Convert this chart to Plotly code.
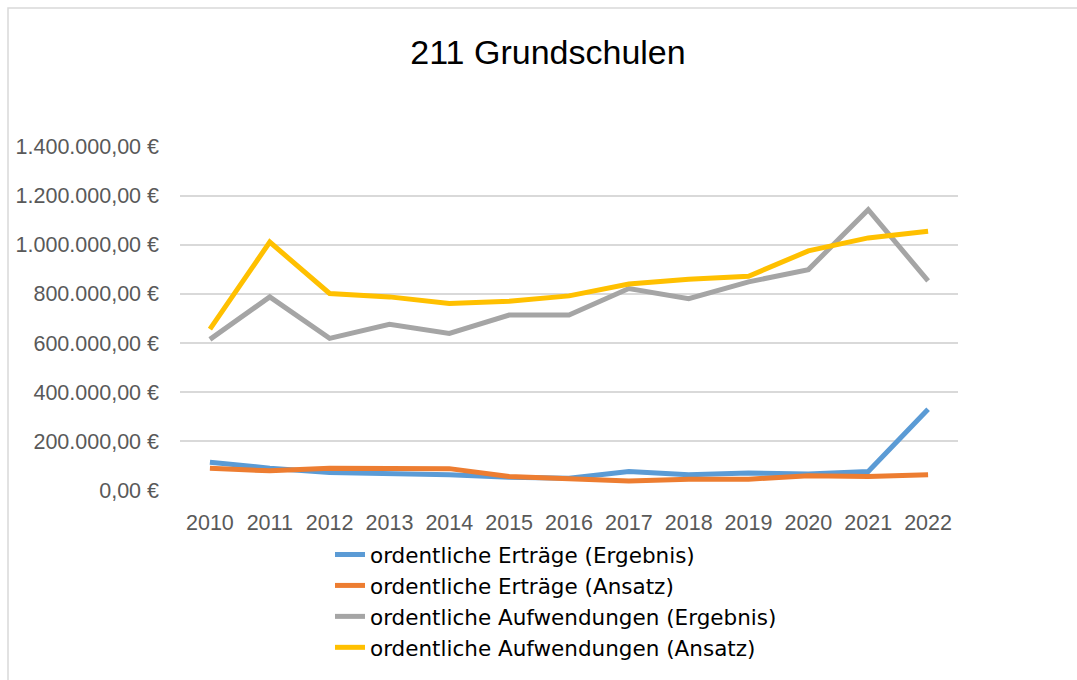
import plotly.graph_objects as go

years = ["2010", "2011", "2012", "2013", "2014", "2015", "2016", "2017", "2018", "2019", "2020", "2021", "2022"]
ertraege_ergebnis = [115000, 91000, 73000, 71000, 64000, 54000, 50000, 77000, 64000, 71000, 67000, 77000, 331000]
ertraege_ansatz = [91000, 80000, 91000, 91000, 89000, 57000, 50000, 39000, 46000, 46000, 60000, 57000, 64000]
aufw_ergebnis = [615000, 788000, 619000, 676000, 639000, 714000, 714000, 822000, 781000, 849000, 899000, 1143000, 853000]
aufw_ansatz = [657000, 1011000, 802000, 788000, 761000, 770000, 792000, 840000, 860000, 872000, 975000, 1028000, 1055000]

series_names = [
    "ordentliche Erträge (Ergebnis)",
    "ordentliche Erträge (Ansatz)",
    "ordentliche Aufwendungen (Ergebnis)",
    "ordentliche Aufwendungen (Ansatz)",
]
series_values = [ertraege_ergebnis, ertraege_ansatz, aufw_ergebnis, aufw_ansatz]
colors = ["#5B9BD5", "#ED7D31", "#A5A5A5", "#FFC000"]

tick_vals = [0, 200000, 400000, 600000, 800000, 1000000, 1200000, 1400000]
tick_text = ["0,00 €", "200.000,00 €", "400.000,00 €", "600.000,00 €", "800.000,00 €",
             "1.000.000,00 €", "1.200.000,00 €", "1.400.000,00 €"]

W, H = 1077, 680
L, R, T, B = 180, 119, 146, 189

fig = go.Figure()
for name, vals, col in zip(series_names, series_values, colors):
    fig.add_trace(go.Scatter(
        x=years, y=vals, name=name, mode="lines",
        line=dict(color=col, width=5),
    ))

pw = W - L - R
ph = H - T - B
def px_x(p):
    return (p - L) / pw
def px_y(p):
    return (H - B - p) / ph

fig.update_layout(
    width=W, height=H,
    margin=dict(l=L, r=R, t=T, b=B, autoexpand=False),
    paper_bgcolor="white", plot_bgcolor="white",
    font=dict(family="Liberation Sans, Arial, sans-serif"),
    title=dict(text="211 Grundschulen", x=548 / W, xanchor="center",
               y=1 - 52 / H, yanchor="middle",
               font=dict(size=34, color="#000000", family="Liberation Sans, Arial, sans-serif")),
    xaxis=dict(type="category", range=[-0.5, 12.5], showgrid=False, zeroline=False,
               showline=False, ticks="", tickfont=dict(size=21.5, color="#595959"),
               ticklabelstandoff=16),
    yaxis=dict(range=[-2000, 1402000], tickvals=tick_vals, ticktext=tick_text,
               showgrid=True, gridcolor="#D9D9D9", gridwidth=1.5,
               zeroline=False, showline=False, ticks="",
               tickfont=dict(size=21.5, color="#595959"), ticklabelstandoff=20),
    showlegend=True,
    legend=dict(orientation="v", xref="container", yref="container",
                x=330 / W, xanchor="left", y=1 - 534 / H, yanchor="top",
                font=dict(size=21.5, color="#000000", family="DejaVu Sans, sans-serif"),
                tracegroupgap=0, bgcolor="rgba(0,0,0,0)", itemwidth=30),
    shapes=[dict(type="rect", xref="paper", yref="paper",
                 x0=px_x(8), x1=px_x(1090), y0=px_y(700), y1=px_y(8),
                 line=dict(color="#D9D9D9", width=1.5), fillcolor="rgba(0,0,0,0)", layer="below")],
)

fig.write_html("out.html", config={"displayModeBar": False},
               post_script="document.body.style.margin='0px';document.body.style.overflow='hidden';")
